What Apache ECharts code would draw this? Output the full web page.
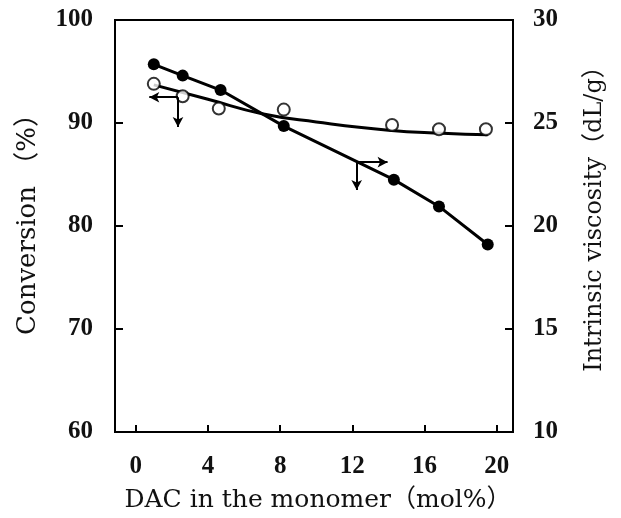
<!DOCTYPE html>
<html><head><meta charset="utf-8">
<script src="https://cdn.jsdelivr.net/npm/echarts@6/dist/echarts.min.js"></script>
<style>html,body{margin:0;padding:0;background:#fff}#c{width:621px;height:518px}</style>
</head><body><div id="c"></div>
<script>
// DAC content (mol%)
const dacConv = [1.0, 2.6, 4.6, 8.2, 14.2, 16.8, 19.4];
const conversion = [93.8, 92.6, 91.4, 91.3, 89.8, 89.4, 89.4];
const dacVisc = [1.0, 2.6, 4.7, 8.2, 14.3, 16.8, 19.5];
const viscosity = [27.85, 27.3, 26.6, 24.85, 22.25, 20.95, 19.1];
// fitted trend curve for conversion
const fitX = [1.0, 4.0, 7.0, 10.0, 14.0, 17.0, 19.5];
const fitY = [93.7, 92.3, 90.9, 90.1, 89.3, 89.0, 88.85];
const xTicks = [0, 4, 8, 12, 16, 20];
// axis indicator arrows [corner, horizontal end, vertical end]
const arrowConv = [[2.34, 92.5], [0.75, 92.5], [2.34, 89.6]];
const arrowVisc = [[12.24, 23.1], [13.95, 23.1], [12.24, 21.75]];
// axis titles
const xTitle = 'DAC in the monomer（mol%）';
const yLeftTitle = 'Conversion （%）';
const yRightTitle = 'Intrinsic viscosity（dL/g）';

const serif = '"Liberation Serif","Times New Roman",serif';
const titleFont = '"DejaVu Serif","Noto Sans CJK SC",serif';
function arrows(a) {
  return [[{coord: a[0]}, {coord: a[1]}], [{coord: a[0]}, {coord: a[2]}]];
}
const chart = echarts.init(document.getElementById('c'), null, {renderer: 'canvas'});
chart.setOption({
  backgroundColor: '#fff',
  animation: false,
  graphic: [
    {type: 'text', x: 318, y: 500, style: {text: xTitle, font: '25px ' + titleFont, fill: '#111', align: 'center', verticalAlign: 'middle'}},
    {type: 'text', x: 28, y: 218, rotation: Math.PI / 2, style: {text: yLeftTitle, font: '26px ' + titleFont, fill: '#111', align: 'center', verticalAlign: 'middle'}},
    {type: 'text', x: 595, y: 213, rotation: Math.PI / 2, style: {text: yRightTitle, font: '24px ' + titleFont, fill: '#111', align: 'center', verticalAlign: 'middle'}}
  ],
  grid: {left: 115, right: 108, top: 20, bottom: 86, outerBoundsMode: 'none', containLabel: false,
    show: true, borderColor: '#000', borderWidth: 2, backgroundColor: 'transparent'},
  xAxis: {
    type: 'value', min: -1.15, max: 20.9,
    axisLine: {onZero: false, lineStyle: {color: '#000', width: 2}},
    axisTick: {inside: true, length: 7, lineStyle: {color: '#000', width: 2}, customValues: xTicks},
    axisLabel: {customValues: xTicks, margin: 22, fontFamily: serif, fontSize: 25, color: '#111', fontWeight: 'bold'},
    splitLine: {show: false}
  },
  yAxis: [{
    type: 'value', min: 60, max: 100, interval: 10, position: 'left',
    axisLine: {show: true, onZero: false, lineStyle: {color: '#000', width: 2}},
    axisTick: {show: true, inside: true, length: 8, lineStyle: {color: '#000', width: 2}},
    axisLabel: {margin: 22, fontFamily: serif, fontSize: 25, color: '#111', fontWeight: 'bold'},
    splitLine: {show: false}
  }, {
    type: 'value', min: 10, max: 30, interval: 5, position: 'right',
    axisLine: {show: true, onZero: false, lineStyle: {color: '#000', width: 2}},
    axisTick: {show: true, inside: true, length: 8, lineStyle: {color: '#000', width: 2}},
    axisLabel: {margin: 20, fontFamily: serif, fontSize: 25, color: '#111', fontWeight: 'bold'},
    splitLine: {show: false}
  }],
  series: [{
    name: 'fit', type: 'line', yAxisIndex: 0, smooth: 0.5, showSymbol: false,
    data: fitX.map((x, i) => [x, fitY[i]]),
    lineStyle: {color: '#000', width: 3}, z: 2,
    markLine: {silent: true, symbol: ['none', 'arrow'], symbolSize: [8, 10], label: {show: false},
      lineStyle: {color: '#000', width: 2, type: 'solid'}, data: arrows(arrowConv)}
  }, {
    name: 'Conversion', type: 'scatter', yAxisIndex: 0,
    data: dacConv.map((x, i) => [x, conversion[i]]),
    symbol: 'circle', symbolSize: 12,
    itemStyle: {color: '#fff', borderColor: '#000', borderWidth: 2}, z: 4
  }, {
    name: 'Viscosity', type: 'line', yAxisIndex: 1,
    data: dacVisc.map((x, i) => [x, viscosity[i]]),
    symbol: 'circle', symbolSize: 12, showSymbol: true,
    itemStyle: {color: '#000'}, lineStyle: {color: '#000', width: 3}, z: 3,
    markLine: {silent: true, symbol: ['none', 'arrow'], symbolSize: [8, 10], label: {show: false},
      lineStyle: {color: '#000', width: 2, type: 'solid'}, data: arrows(arrowVisc)}
  }]
});
</script></body></html>
